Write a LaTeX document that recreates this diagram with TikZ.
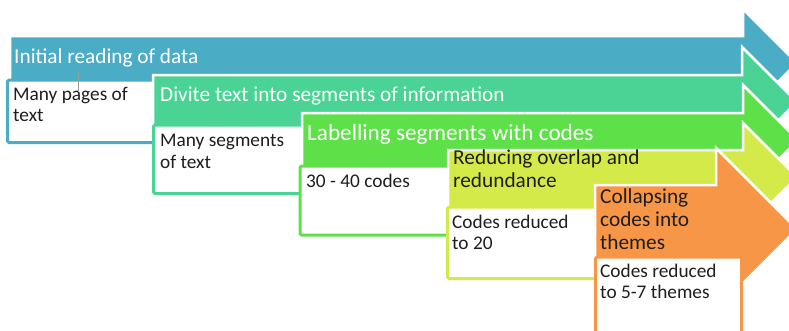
\documentclass[tikz,border=0pt]{standalone}
\usepackage{fontspec}
\setmainfont{Carlito}
\definecolor{cblue}{HTML}{4BACC6}
\definecolor{cteal}{HTML}{4AD395}
\definecolor{cgreen}{HTML}{5EE148}
\definecolor{cyell}{HTML}{D4EA48}
\definecolor{corange}{HTML}{F79646}
\definecolor{txtdark}{HTML}{1E1E1E}
\tikzset{
  arrowshape/.style={fill=#1, draw=white, line width=2.5pt, line join=miter},
  textbox/.style={fill=white, draw=#1, line width=3pt, rounded corners=1.5pt},
  headtxt/.style={anchor=base west, inner sep=0pt, align=left,
    font=\fontsize{21.3}{22.7}\selectfont},
  boxtxt/.style={anchor=base west, inner sep=0pt, align=left,
    font=\fontsize{19.3}{21.5}\selectfont, text=txtdark},
}
\begin{document}
\begin{tikzpicture}[x=1pt,y=-1pt]
\useasboundingbox (0,0) rectangle (789,330);
\clip (0,0) rectangle (789,330);
% step 1
\path[arrowshape=cblue] (10,36) -- (743,36) -- (743,9) -- (797,63) -- (743,117) -- (743,90) -- (10,90) -- cycle;
\path[textbox=cblue] (7.5,80) rectangle (160,142.5);
\node[headtxt, text=white] (h1) at (14,63) {Initial reading of data};
\node[boxtxt] (b1) at (13,121.5) {Many pages of\\text};
\coordinate (g1) at (78,72);
\coordinate (g2) at (78,92);
\draw[gray!80, line width=1pt] (g1) -- (g2);
% step 2
\path[arrowshape=cteal] (153,75) -- (742,75) -- (742,47) -- (797,102) -- (742,157) -- (742,131) -- (153,131) -- cycle;
\path[textbox=cteal] (153.5,125) rectangle (305,193.5);
\node[headtxt, text=white] (h2) at (160,101) {Divite text into segments of information};
\node[boxtxt] (b2) at (160,168) {Many segments\\of text};
% step 3
\path[arrowshape=cgreen] (302,113) -- (743,113) -- (743,85) -- (798,140) -- (743,195) -- (743,170) -- (302,170) -- cycle;
\path[textbox=cgreen] (300,166) rectangle (452,235);
\node[headtxt, text=white, font=\fontsize{23.2}{25}\selectfont] (h3) at (307,140) {Labelling segments with codes};
\node[boxtxt] (b3) at (306,187) {30 - 40 codes};
% step 4
\path[arrowshape=cyell] (448,150) -- (743,150) -- (743,123) -- (797,177) -- (743,231) -- (743,212) -- (448,212) -- cycle;
\path[textbox=cyell] (447.5,207) rectangle (600,278.5);
\node[headtxt, text=txtdark] (h4) at (453,187.5) {Reducing overlap and\\redundance};
\node[boxtxt] (b4) at (452,249.5) {Codes reduced\\to 20};
% step 5
\path[arrowshape=corange] (595,185) -- (716,185) -- (716,148) -- (797,229) -- (716,310) -- (716,273) -- (595,273) -- cycle;
\path[textbox=corange] (595.5,257) rectangle (741.5,345);
\node[headtxt, text=txtdark] (h5) at (600,249) {Collapsing\\codes into\\themes};
\node[boxtxt] (b5) at (600,298.5) {Codes reduced\\to 5-7 themes};
\end{tikzpicture}
\end{document}
